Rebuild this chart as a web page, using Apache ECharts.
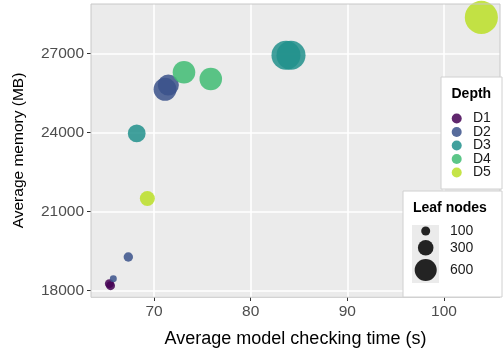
<!DOCTYPE html>
<html>
<head>
<meta charset="utf-8">
<script src="https://cdn.jsdelivr.net/npm/echarts@6/dist/echarts.min.js"></script>
<style>
  html, body { margin: 0; padding: 0; background: #fff; }
  #chart { width: 504px; height: 353px; }
</style>
</head>
<body>
<div id="chart"></div>
<script>
// data
const depthLevels = ["D1", "D2", "D3", "D4", "D5"];
const checkTime = [65.38, 65.5, 65.79, 67.34, 71.14, 71.48, 68.21, 83.65, 84.17, 73.1, 75.87, 69.31, 103.86];
const memoryMB = [18267, 18190, 18457, 19277, 25633, 25796, 23962, 26924, 26924, 26279, 26024, 21494, 28359];
const leafNodes = [100, 100, 60, 110, 650, 550, 390, 1040, 1040, 630, 630, 280, 1350];
const depth = ["D1", "D1", "D2", "D2", "D2", "D2", "D3", "D3", "D3", "D4", "D4", "D5", "D5"];
const leafBreaks = [100, 300, 600];
const xTicks = [70, 80, 90, 100];
const yTicks = [18000, 21000, 24000, 27000];

const depthColors = ["#440154", "#3B528B", "#21908C", "#3FBC73", "#BBDF27"];
const font = '"Liberation Sans", Arial, Helvetica, sans-serif';
const pointAlpha = 0.85;
const sizeOf = (v) => 0.9 * Math.sqrt(v);

const series = depthLevels.map((d, k) => ({
  name: d,
  type: "scatter",
  data: checkTime
    .map((t, i) => [t, memoryMB[i], leafNodes[i], depth[i]])
    .filter((p) => p[3] === d),
  symbolSize: (val) => sizeOf(val[2]),
  itemStyle: { color: depthColors[k], opacity: pointAlpha },
  clip: false,
}));

// legend boxes, ggplot style
const legendGraphics = [];
legendGraphics.push({
  type: "rect", z: 20,
  shape: { x: 441, y: 77, width: 61, height: 112 },
  style: { fill: "#fff", stroke: "#D0D0D0", lineWidth: 1 },
});
legendGraphics.push({
  type: "text", z: 21, x: 451.5, y: 94,
  style: { text: "Depth", font: "bold 14px " + font, fill: "#000", textVerticalAlign: "middle" },
});
depthLevels.forEach((d, k) => {
  const cy = 118.5 + 13.5 * k;
  legendGraphics.push({
    type: "circle", z: 21,
    shape: { cx: 456.7, cy: cy, r: 5 },
    style: { fill: depthColors[k], opacity: pointAlpha },
  });
  legendGraphics.push({
    type: "text", z: 21, x: 473, y: cy,
    style: { text: d, font: "14px " + font, fill: "#1A1A1A", textVerticalAlign: "middle" },
  });
});

legendGraphics.push({
  type: "rect", z: 20,
  shape: { x: 403, y: 191, width: 99, height: 106 },
  style: { fill: "#fff", stroke: "#D0D0D0", lineWidth: 1 },
});
legendGraphics.push({
  type: "text", z: 21, x: 413, y: 208,
  style: { text: "Leaf nodes", font: "bold 14px " + font, fill: "#000", textVerticalAlign: "middle" },
});
legendGraphics.push({
  type: "rect", z: 21,
  shape: { x: 412, y: 225, width: 27, height: 58 },
  style: { fill: "#EBEBEB" },
});
const leafKeyY = [231, 247.7, 270];
leafBreaks.forEach((v, k) => {
  legendGraphics.push({
    type: "circle", z: 22,
    shape: { cx: 425.7, cy: leafKeyY[k], r: sizeOf(v) / 2 },
    style: { fill: "#000", opacity: pointAlpha },
  });
  legendGraphics.push({
    type: "text", z: 22, x: 450, y: leafKeyY[k],
    style: { text: String(v), font: "14px " + font, fill: "#1A1A1A", textVerticalAlign: "middle" },
  });
});

// panel border
legendGraphics.push({
  type: "rect", z: 10,
  shape: { x: 91, y: 4, width: 409, height: 293.3 },
  style: { fill: "none", stroke: "#C8C8C8", lineWidth: 1 },
});

const axisCommon = {
  nameLocation: "middle",
  nameTextStyle: { color: "#000", fontFamily: font },
  axisLine: { show: false },
  axisTick: { show: true, length: 4, lineStyle: { color: "#333", width: 1 } },
  axisLabel: { color: "#4D4D4D", fontSize: 15.5, fontFamily: font, formatter: (v) => String(v) },
  splitLine: { show: true, lineStyle: { color: "#fff", width: 1.6 } },
};

const option = {
  animation: false,
  backgroundColor: "#fff",
  grid: {
    left: 91, right: 4, top: 4, bottom: 55.7,
    show: true, backgroundColor: "#EBEBEB", borderWidth: 0,
  },
  xAxis: {
    ...axisCommon,
    type: "value",
    min: 63.48,
    max: 105.79,
    name: "Average model checking time (s)",
    nameGap: 33,
    nameTextStyle: { ...axisCommon.nameTextStyle, fontSize: 18 },
    axisTick: { ...axisCommon.axisTick, customValues: xTicks },
    axisLabel: { ...axisCommon.axisLabel, customValues: xTicks, margin: 7 },
  },
  yAxis: {
    ...axisCommon,
    type: "value",
    min: 17761,
    max: 28867,
    name: "Average memory (MB)",
    nameGap: 64,
    nameTextStyle: { ...axisCommon.nameTextStyle, fontSize: 15.5 },
    axisTick: { ...axisCommon.axisTick, customValues: yTicks },
    axisLabel: { ...axisCommon.axisLabel, customValues: yTicks, margin: 7 },
  },
  graphic: legendGraphics,
  series: series,
};

const myChart = echarts.init(document.getElementById("chart"));
myChart.setOption(option);
</script>
</body>
</html>
